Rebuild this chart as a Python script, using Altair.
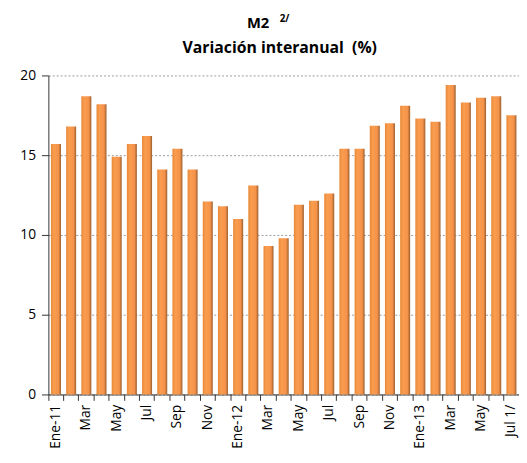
import altair as alt
import pandas as pd

months = ["Ene-11","Feb-11","Mar-11","Abr-11","May-11","Jun-11","Jul-11","Ago-11","Sep-11","Oct-11","Nov-11","Dic-11",
          "Ene-12","Feb-12","Mar-12","Abr-12","May-12","Jun-12","Jul-12","Ago-12","Sep-12","Oct-12","Nov-12","Dic-12",
          "Ene-13","Feb-13","Mar-13","Abr-13","May-13","Jun-13","Jul-13"]
values = [15.7, 16.8, 18.7, 18.2, 14.9, 15.7, 16.2, 14.1, 15.4, 14.1, 12.1, 11.8,
          11.0, 13.1, 9.3, 9.8, 11.9, 12.15, 12.6, 15.4, 15.4, 16.85, 17.0, 18.1,
          17.3, 17.1, 19.4, 18.3, 18.6, 18.7, 17.5]
tick_labels = ["Ene-11","","Mar","","May","","Jul","","Sep","","Nov","",
               "Ene-12","","Mar","","May","","Jul","","Sep","","Nov","",
               "Ene-13","","Mar","","May","","Jul 1/"]
y_ticks = [0, 5, 10, 15, 20]
title_lines = ["M2", "Variación interanual\u00a0\u00a0(%)"]
title_sup = "2/"

df = pd.DataFrame({"idx": list(range(len(months))), "mes": months, "valor": values})
label_expr = "[" + ",".join("'" + t + "'" for t in tick_labels) + "][datum.value]"

FONT = "Open Sans"

bars = alt.Chart(df).mark_bar(
    width=alt.RelativeBandSize(0.66),
    color=alt.Gradient(
        gradient="linear",
        x1=0, x2=1, y1=0, y2=0,
        stops=[
            alt.GradientStop(color="#E8893A", offset=0),
            alt.GradientStop(color="#FA9D4E", offset=0.3),
            alt.GradientStop(color="#F4924A", offset=0.75),
            alt.GradientStop(color="#9C5E2C", offset=1),
        ],
    ),
).encode(
    x=alt.X("idx:O", title=None,
            scale=alt.Scale(paddingInner=0, paddingOuter=0),
            axis=alt.Axis(labelExpr=label_expr, labelAngle=-90, labelFontSize=14,
                          labelFont=FONT, labelColor="#000", bandPosition=0,
                          tickSize=6, tickColor="#333", domainColor="#333",
                          labelPadding=4)),
    y=alt.Y("valor:Q", title=None,
            scale=alt.Scale(domain=[0, 20], nice=False),
            axis=alt.Axis(values=y_ticks, labelFontSize=14, labelFont=FONT, labelColor="#000",
                          grid=True, gridDash=[2, 2], gridColor="#999",
                          tickSize=7, tickColor="#333", domainColor="#333", labelPadding=6)),
    tooltip=["mes", "valor"],
)

title1 = alt.Chart(pd.DataFrame({"t": [title_lines[0]]})).mark_text(
    fontSize=15, fontWeight="bold", font=FONT, align="center", baseline="middle", color="#000"
).encode(text="t:N", x=alt.value(213), y=alt.value(-53))

sup = alt.Chart(pd.DataFrame({"t": [title_sup]})).mark_text(
    fontSize=10, fontWeight="bold", font=FONT, align="left", baseline="middle", color="#000"
).encode(text="t:N", x=alt.value(235), y=alt.value(-57))

title2 = alt.Chart(pd.DataFrame({"t": [title_lines[1]]})).mark_text(
    fontSize=16, fontWeight="bold", font=FONT, align="center", baseline="middle", color="#000"
).encode(text="t:N", x=alt.value(235), y=alt.value(-28))

chart = alt.layer(bars, title1, sup, title2).properties(
    width=478, height=324,
    padding={"left": 41, "top": 65, "right": 0, "bottom": 58},
    autosize=alt.AutoSizeParams(type="none"),
).configure_view(stroke=None)

chart.save("out.html", embed_options={"renderer": "svg", "actions": False})
